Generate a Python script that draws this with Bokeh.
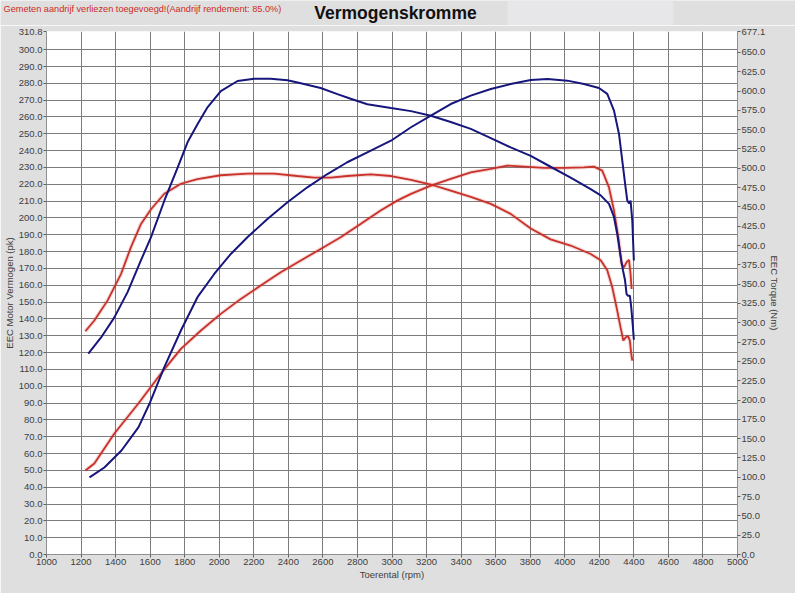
from bokeh.plotting import figure
from bokeh.layouts import column
from bokeh.models import Range1d, LinearAxis, FixedTicker, PrintfTickFormatter, Label
from bokeh.embed import file_html
from bokeh.resources import INLINE

# ---- data ----
# Blue = tuned, red = stock; power in pk (left axis), torque in Nm (right axis)
blue_power_rpm = [1249, 1335, 1434, 1532, 1600, 1682, 1778, 1874, 1971, 2067, 2163, 2279, 2395, 2510, 2626,
                  2741, 2857, 2994, 3110, 3225, 3340, 3456, 3572, 3687, 3803, 3900, 4015, 4111, 4198, 4246,
                  4285, 4314, 4333, 4352, 4362, 4373, 4381, 4391, 4400]
blue_power_pk = [45.8, 51.7, 61.8, 75.5, 90.5, 111.3, 133.1, 152.9, 166.7, 178.6, 188.5, 199.4, 209.3, 218.2,
                 226.1, 233.1, 239.0, 245.9, 253.9, 260.8, 267.7, 272.7, 276.6, 279.6, 282.0, 282.6, 281.6,
                 279.6, 277.2, 273.7, 263.8, 249.9, 234.1, 218.2, 210.3, 208.7, 210.3, 198.4, 174.7]

blue_torque_rpm = [1242, 1316, 1393, 1470, 1547, 1605, 1682, 1759, 1817, 1874, 1932, 2009, 2106, 2202, 2298,
                   2395, 2472, 2587, 2684, 2761, 2857, 2994, 3110, 3225, 3340, 3456, 3572, 3687, 3803, 3918,
                   4034, 4150, 4208, 4256, 4285, 4304, 4324, 4337, 4349, 4358, 4366, 4377, 4385, 4393, 4400]
blue_torque_nm = [260, 281, 307, 340, 381, 411, 458, 501, 534, 557, 579, 600, 613, 616, 616,
                  614, 610, 604, 596, 590, 583, 578, 574, 568, 560, 551, 539, 527, 516, 502,
                  488, 473, 465, 454, 437, 415, 385, 368, 355, 337, 335, 335, 320, 299, 278]

red_power_rpm = [1225, 1277, 1393, 1532, 1676, 1778, 1894, 2009, 2125, 2240, 2356, 2472, 2587, 2703, 2818,
                 2934, 3030, 3110, 3225, 3340, 3456, 3572, 3668, 3765, 3880, 3995, 4111, 4169, 4217, 4256,
                 4285, 4310, 4329, 4343, 4358, 4372, 4381, 4387]
red_power_pk = [49.9, 54.1, 71.9, 89.7, 109.3, 122.2, 133.1, 143.0, 151.9, 159.8, 167.7, 174.7, 181.6, 188.5,
                196.4, 204.4, 210.3, 214.3, 219.2, 223.2, 227.1, 229.1, 231.1, 230.5, 229.7, 229.7, 230.1,
                230.5, 228.1, 218.2, 204.4, 188.5, 172.7, 170.7, 173.7, 175.1, 166.7, 157.8]

red_torque_rpm = [1225, 1277, 1354, 1431, 1489, 1547, 1605, 1682, 1778, 1874, 2009, 2163, 2318, 2452, 2549,
                  2645, 2741, 2876, 2994, 3110, 3225, 3340, 3456, 3572, 3687, 3803, 3918, 4034, 4150, 4208,
                  4246, 4275, 4300, 4323, 4339, 4352, 4366, 4377, 4385, 4391]
red_torque_nm = [289, 303, 329, 363, 398, 428, 447, 467, 480, 486, 491, 493, 493, 490, 488,
                 488, 490, 492, 490, 485, 479, 471, 463, 454, 441, 422, 408, 400, 389, 381,
                 368, 346, 320, 294, 277, 281, 283, 277, 260, 251]

x_ticks = list(range(1000, 5001, 200))
left_ticks = [float(v) for v in range(0, 301, 10)] + [310.8]
right_ticks = [float(v) for v in range(0, 651, 25)] + [677.1]

title_text = "Vermogenskromme"
note_text = "Gemeten aandrijf verliezen toegevoegd!(Aandrijf rendement: 85.0%)"
x_label = "Toerental (rpm)"
left_label = "EEC Motor Vermogen (pk)"
right_label = "EEC Torque (Nm)"

BG = "#dfdfdf"
BLUE = "#16167c"
RED = "#c8322a"
FONT = "Liberation Sans"
HEAD_H = 25

# ---- header strip (holds the title and the note) ----
h = figure(width=795, height=HEAD_H, x_range=Range1d(0, 795), y_range=Range1d(0, HEAD_H),
           output_backend="svg", toolbar_location=None, title=None,
           x_axis_type=None, y_axis_type=None,
           min_border_left=0, min_border_right=0, min_border_top=0, min_border_bottom=0)
h.frame_align = False
h.background_fill_color = BG
h.border_fill_color = BG
h.outline_line_color = None
h.xgrid.visible = False
h.ygrid.visible = False
h.quad(left=[507], right=[673], bottom=[0], top=[HEAD_H], fill_color="#e7e6e8", line_color=None)
h.add_layout(Label(x=395, y=13, text=title_text, text_align="center", text_baseline="middle",
                   text_font=FONT, text_font_size="17.5px", text_font_style="bold", text_color="#111111"))
h.add_layout(Label(x=3, y=17, text=note_text, text_align="left", text_baseline="middle",
                   text_font=FONT, text_font_size="9.2px", text_color="#cc2a22"))

# ---- main chart ----
p = figure(width=795, height=593 - HEAD_H, x_range=Range1d(1000, 5000), y_range=Range1d(0, 310.8),
           output_backend="svg", toolbar_location=None, title=None,
           min_border_left=45, min_border_right=58, min_border_top=31 - HEAD_H, min_border_bottom=39)
p.frame_align = False
p.extra_y_ranges = {"torque": Range1d(0, 677.1)}
p.background_fill_color = "white"
p.border_fill_color = BG
p.outline_line_color = None

p.xaxis.ticker = FixedTicker(ticks=x_ticks)
p.xaxis.formatter = PrintfTickFormatter(format="%d")
p.yaxis.ticker = FixedTicker(ticks=left_ticks)
p.yaxis.formatter = PrintfTickFormatter(format="%.1f")
p.xaxis.axis_label = x_label
p.yaxis.axis_label = left_label

raxis = LinearAxis(y_range_name="torque", ticker=FixedTicker(ticks=right_ticks),
                   formatter=PrintfTickFormatter(format="%.1f"), axis_label=right_label)
p.add_layout(raxis, "right")

for ax in [p.xaxis[0], p.yaxis[0], raxis]:
    ax.major_label_text_font = FONT
    ax.major_label_text_font_size = "9.5px"
    ax.major_label_text_color = "#404040"
    ax.axis_label_text_font = FONT
    ax.axis_label_text_font_size = "9.5px"
    ax.axis_label_text_font_style = "normal"
    ax.axis_label_text_color = "#404040"
    ax.axis_line_color = "#909090"
    ax.major_tick_line_color = "#606060"
    ax.major_tick_out = 3
    ax.major_tick_in = 0
    ax.minor_tick_line_color = None
    ax.major_label_standoff = 1
    ax.axis_label_standoff = 1

p.xgrid.ticker = FixedTicker(ticks=x_ticks)
p.ygrid.ticker = FixedTicker(ticks=left_ticks)
p.xgrid.grid_line_color = "#7c7c7c"
p.ygrid.grid_line_color = "#7c7c7c"

p.line(red_torque_rpm, red_torque_nm, y_range_name="torque", color=RED, line_width=4, alpha=0.18)
p.line(red_power_rpm, red_power_pk, color=RED, line_width=4, alpha=0.18)
p.line(red_torque_rpm, red_torque_nm, y_range_name="torque", color=RED, line_width=1.8)
p.line(red_power_rpm, red_power_pk, color=RED, line_width=1.8)
p.line(blue_torque_rpm, blue_torque_nm, y_range_name="torque", color=BLUE, line_width=2)
p.line(blue_power_rpm, blue_power_pk, color=BLUE, line_width=2)

layout = column(h, p, spacing=0)
open("out.html", "w").write(file_html(layout, INLINE))
